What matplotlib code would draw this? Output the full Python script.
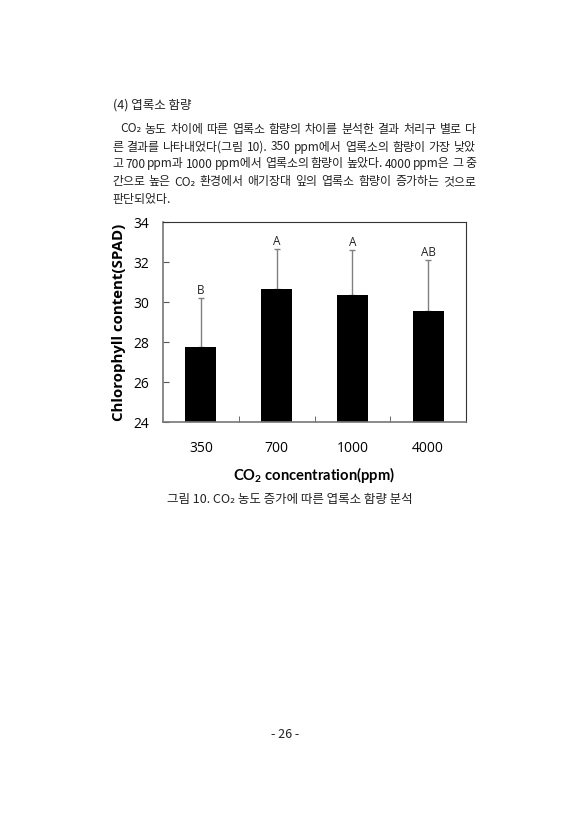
import matplotlib
matplotlib.use('Agg')
import matplotlib.pyplot as plt

# 데이터
co2_labels = ['350', '700', '1000', '4000']
chlorophyll = [27.75, 30.65, 30.35, 29.55]
err_upper = [2.45, 2.0, 2.25, 2.55]
letters = ['B', 'A', 'A', 'AB']

body_lines = [
    'CO₂ 농도 차이에 따른 엽록소 함량의 차이를 분석한 결과 처리구 별로 다',
    '른 결과를 나타내었다(그림 10). 350 ppm에서 엽록소의 함량이 가장 낮았',
    '고 700 ppm과 1000 ppm에서 엽록소의 함량이 높았다. 4000 ppm은 그 중',
    '간으로 높은 CO₂ 환경에서 애기장대 잎의 엽록소 함량이 증가하는 것으로',
    '판단되었다.',
]
heading = '(4) 엽록소 함량'
caption = '그림 10. CO₂ 농도 증가에 따른 엽록소 함량 분석'
page_no = '- 26 -'

plt.rcParams['mathtext.fontset'] = 'custom'
plt.rcParams['mathtext.bf'] = 'Lato:bold'
plt.rcParams['mathtext.rm'] = 'Lato'

W, H = 571, 840
fig = plt.figure(figsize=(W / 100, H / 100), dpi=100)
fig.patch.set_facecolor('white')
kor = ['Noto Sans CJK KR', 'DejaVu Sans']
renderer = fig.canvas.get_renderer()
fs = 9
fs_body = 8.6


def put(x, y, s, **kw):
    return fig.text(x / W, 1 - y / H, s, va='center', family=kor, **kw)


def justify(x0, x1, y, line, size):
    # 단어 사이 간격을 늘려 양쪽 정렬
    words = line.split(' ')
    items = [put(0, y, w, fontsize=size, color='#222222') for w in words]
    widths = [t.get_window_extent(renderer).width for t in items]
    gap = (x1 - x0 - sum(widths)) / (len(words) - 1)
    x = x0
    for t, w in zip(items, widths):
        t.set_x(x / W)
        x += w + gap


put(113, 105, heading, fontsize=fs, color='#222222')
ys = [129, 147, 164, 182, 199]
for i, line in enumerate(body_lines):
    x0 = 120 if i == 0 else 112
    if i < len(body_lines) - 1:
        justify(x0, 476, ys[i], line, fs_body)
    else:
        put(x0, ys[i], line, fontsize=fs_body, color='#222222')

# 그래프
ax = fig.add_axes([163 / W, 1 - 422 / H, (466 - 163) / W, (422 - 222) / H])
x = range(len(co2_labels))
ax.bar(x, chlorophyll, width=0.41, color='black', zorder=2)
ax.errorbar(x, chlorophyll, yerr=[[0] * 4, err_upper], fmt='none',
            ecolor='#808080', elinewidth=1, capsize=2, capthick=1, zorder=1)
for i, (m, e, l) in enumerate(zip(chlorophyll, err_upper, letters)):
    ax.text(i, m + e + 0.05, l, ha='center', va='bottom', fontsize=8.5,
            family='Open Sans', color='#222222')

ax.set_xlim(-0.5, 3.5)
ax.set_ylim(24, 34)
ax.set_yticks([24, 26, 28, 30, 32, 34])
ax.set_xticks(x)
ax.set_xticklabels(co2_labels, family='Open Sans', fontsize=10)
ax.set_xticks([0.5, 1.5, 2.5], minor=True)
ax.tick_params(axis='x', which='major', length=0, pad=14)
ax.tick_params(axis='x', which='minor', direction='in', length=4, color='#555555')
ax.tick_params(axis='y', direction='in', length=4, color='#555555', pad=10,
               labelsize=10)
for lab in ax.get_yticklabels():
    lab.set_family('Open Sans')
for s in ['left', 'bottom']:
    ax.spines[s].set_color('#777777')
    ax.spines[s].set_linewidth(1.2)
for s in ['top', 'right']:
    ax.spines[s].set_color('#333333')
    ax.spines[s].set_linewidth(0.8)

ax.set_ylabel('Chlorophyll content(SPAD)', fontsize=10.8, fontweight='bold',
              family='Open Sans', labelpad=5)
ax.set_xlabel(r'$\mathbf{CO_2}$ concentration(ppm)', fontsize=10.6,
              fontweight='bold', family='Lato', labelpad=6)

put(290, 499, caption, fontsize=fs, color='#222222', ha='center')
put(285, 735, page_no, fontsize=fs, color='#222222', ha='center')

fig.savefig('out.png', dpi=100)
